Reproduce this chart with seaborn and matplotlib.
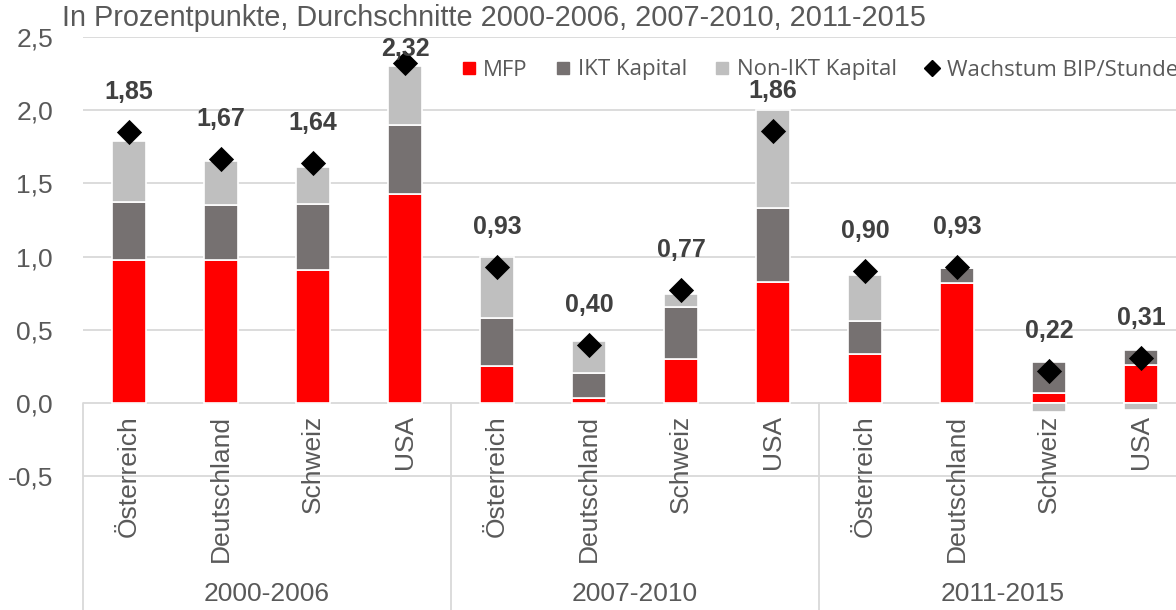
import matplotlib
matplotlib.use("Agg")
import matplotlib.pyplot as plt
import seaborn as sns
import numpy as np
import pandas as pd
from matplotlib.lines import Line2D

# ---------------- data ----------------
countries = ["Österreich", "Deutschland", "Schweiz", "USA"] * 3
periods = ["2000-2006", "2007-2010", "2011-2015"]
mfp = [0.98, 0.98, 0.91, 1.43, 0.25, 0.035, 0.30, 0.83, 0.335, 0.82, 0.07, 0.26]
ikt = [0.39, 0.37, 0.45, 0.47, 0.33, 0.17, 0.355, 0.50, 0.225, 0.10, 0.21, 0.10]
non_ikt = [0.42, 0.30, 0.25, 0.40, 0.42, 0.22, 0.09, 0.67, 0.315, 0.00, -0.06, -0.05]
growth = [1.85, 1.67, 1.64, 2.32, 0.93, 0.40, 0.77, 1.86, 0.90, 0.93, 0.22, 0.31]
yticks = [-0.5, 0.0, 0.5, 1.0, 1.5, 2.0, 2.5]
ytick_labels = ["-0,5", "0,0", "0,5", "1,0", "1,5", "2,0", "2,5"]
subtitle = "In Prozentpunkte, Durchschnitte 2000-2006, 2007-2010, 2011-2015"
series_names = ["MFP", "IKT Kapital", "Non-IKT Kapital", "Wachstum BIP/Stunde"]

# ---------------- style ----------------
sns.set_style("white")
plt.rcParams["font.family"] = ["Liberation Sans", "DejaVu Sans"]
TXT = "#595959"
GRID = "#D9D9D9"
C_MFP, C_IKT, C_NON = "#FF0000", "#767171", "#BFBFBF"
FS = 19

W, H = 1176, 610
fig = plt.figure(figsize=(W / 100, H / 100), dpi=100)
px_per_unit = 146.5
y0_px = 403
ybot = (y0_px - H) / px_per_unit
ax = fig.add_axes([83 / W, 0, 1104 / W, 1 - 37 / H])

idx = np.arange(len(countries))
df = pd.DataFrame({"idx": idx, "mfp": mfp, "ikt": ikt, "non": non_ikt, "g": growth})

# stacking bottoms (positive stack upward, negative stack downward)
layers = [("mfp", C_MFP), ("ikt", C_IKT), ("non", C_NON)]
pos_base = np.zeros(len(idx))
neg_base = np.zeros(len(idx))
for col, color in layers:
    vals = df[col].to_numpy()
    bottoms = np.where(vals >= 0, pos_base, neg_base)
    sns.barplot(data=df, x="idx", y=col, bottom=bottoms, color=color, width=0.38,
                saturation=1, edgecolor="white", linewidth=1.2, ax=ax, zorder=3,
                native_scale=True, errorbar=None)
    pos_base = pos_base + np.where(vals >= 0, vals, 0)
    neg_base = neg_base + np.where(vals < 0, vals, 0)

sns.scatterplot(data=df, x="idx", y="g", marker="D", s=165, color="black",
                edgecolor="black", linewidth=0, ax=ax, zorder=5, legend=False)

# data labels
for i, v in zip(idx, growth):
    ly = min(v + 40 / px_per_unit, 2.42)
    ax.text(i, ly, f"{v:.2f}".replace(".", ","), ha="center", va="center",
            fontsize=18, fontweight="bold", color="#404040", zorder=6)

ax.set_xlim(-0.5, 11.5)
ax.set_ylim(ybot, 2.5)
for s in ax.spines.values():
    s.set_visible(False)

# gridlines
for yt in yticks:
    ax.axhline(yt, color=GRID, lw=1.3, zorder=1)
ax.set_yticks(yticks)
ax.set_yticklabels(ytick_labels, fontsize=FS, color=TXT)
ax.tick_params(axis="y", length=0, pad=30 * 0.72)
ax.set_xticks([])
ax.set_xlabel("")
ax.set_ylabel("")

# category axis lines
for xs in [-0.5, 3.5, 7.5]:
    ax.plot([xs, xs], [ybot, 0], color=GRID, lw=1.3, zorder=2, clip_on=False)

# category labels
for i, c in zip(idx, countries):
    ax.text(i, -12 / px_per_unit, c, rotation=90, ha="center", va="top",
            fontsize=FS, color=TXT)
for g, p in enumerate(periods):
    ax.text(4 * g + 1.5, (y0_px - 594) / px_per_unit, p, ha="center", va="center",
            fontsize=FS, color=TXT)

# subtitle
fig.text(62 / W, 1 - 18 / H, subtitle, ha="left", va="center", fontsize=20.8, color=TXT)

# legend
handles = [
    Line2D([], [], marker="s", ls="", color=C_MFP, markersize=8.6),
    Line2D([], [], marker="s", ls="", color=C_IKT, markersize=8.6),
    Line2D([], [], marker="s", ls="", color=C_NON, markersize=8.6),
    Line2D([], [], marker="D", ls="", color="black", markersize=8.2),
]
fig.legend(handles, series_names, loc="center left", bbox_to_anchor=(462 / W, 1 - 70 / H),
           ncol=4, frameon=False, prop={"family": ["Open Sans", "DejaVu Sans"], "size": 16},
           labelcolor=TXT, handlelength=0.6, handletextpad=0.35, columnspacing=1.3,
           borderaxespad=0, borderpad=0)

fig.savefig("out.png", dpi=100)
